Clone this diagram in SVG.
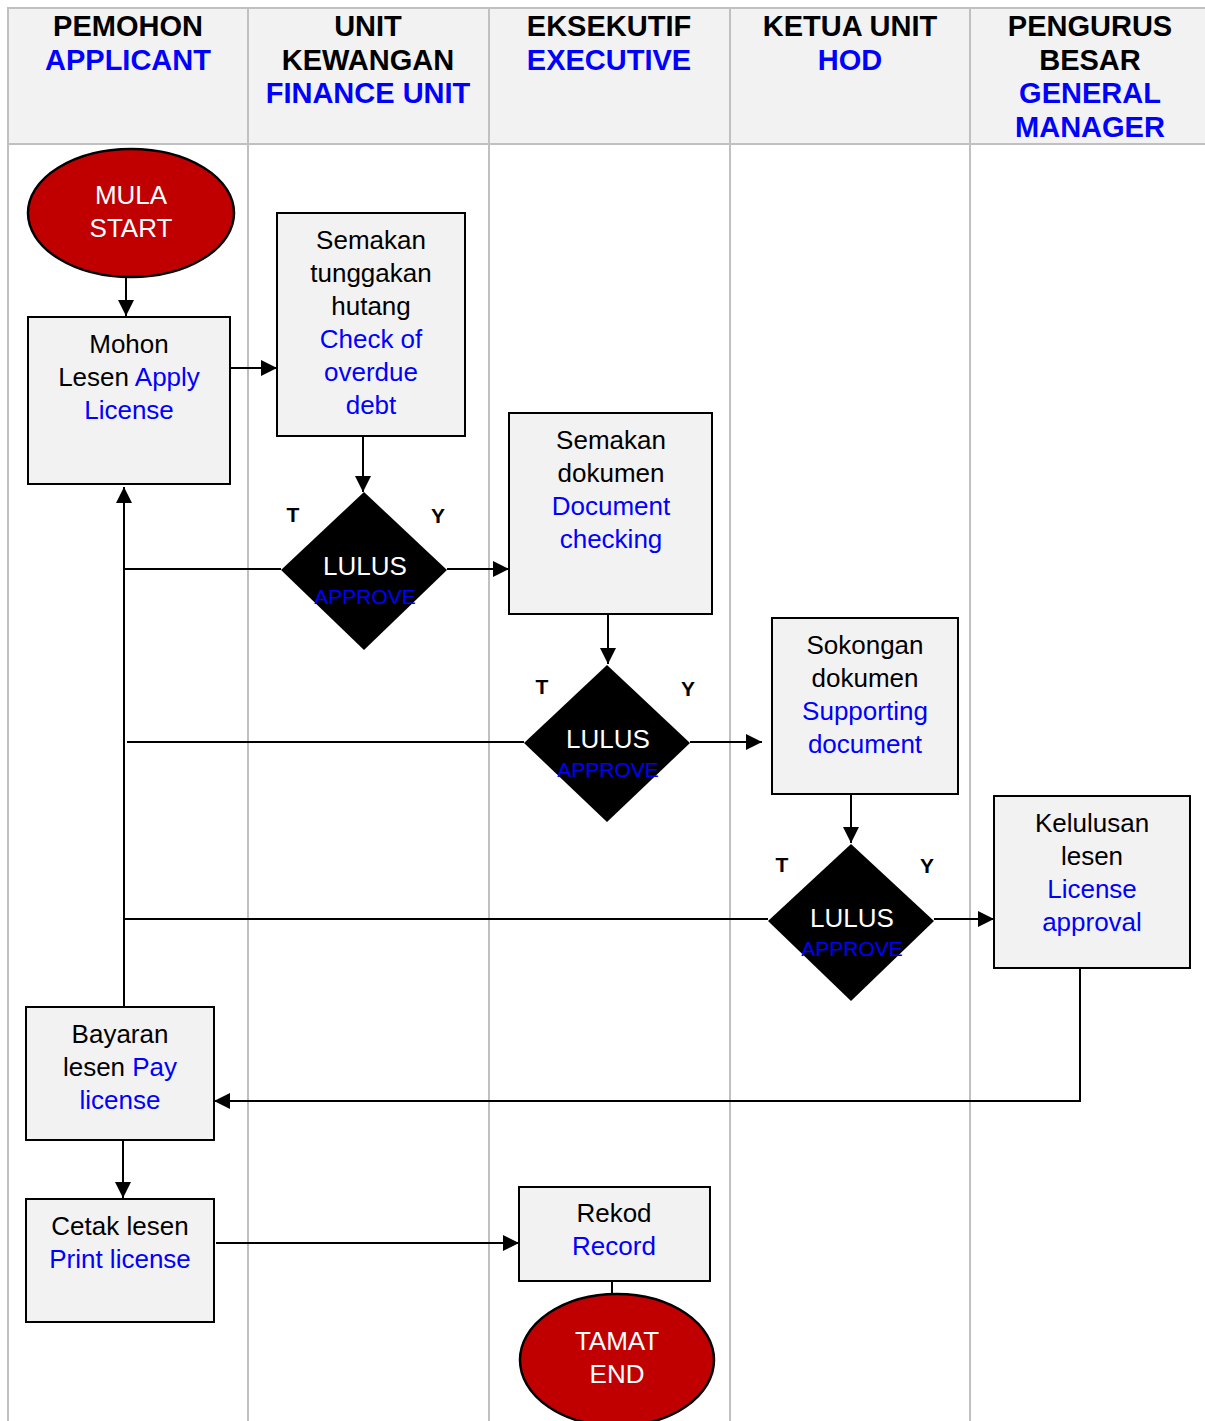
<svg xmlns="http://www.w3.org/2000/svg" width="1205" height="1421" viewBox="0 0 1205 1421">
<defs>
<style>
.hd{font-family:"Liberation Sans",Arial,sans-serif;font-size:29px;font-weight:bold;text-anchor:middle;fill:#000}
.t{font-family:"Liberation Sans",Arial,sans-serif;font-size:26px;text-anchor:middle;fill:#000}
.b{fill:#0000ff}
.w{fill:#fff}
.ap{font-family:"Liberation Sans",Arial,sans-serif;font-size:21px;text-anchor:middle;fill:#0000ff}
.ty{font-family:"Liberation Sans",Arial,sans-serif;font-size:21px;font-weight:bold;text-anchor:middle;fill:#000}
.box{fill:#f2f2f2;stroke:#000;stroke-width:2}
.term{fill:#c00000;stroke:#000;stroke-width:2.5}
.dia{fill:#000}
.lane{stroke:#c0c0c0;stroke-width:2;fill:none}
.c{stroke:#000;stroke-width:2;fill:none}
.ca{stroke:#000;stroke-width:2;fill:none;marker-end:url(#arr)}
</style>
<marker id="arr" markerUnits="userSpaceOnUse" markerWidth="17" markerHeight="17" refX="16" refY="8" orient="auto">
<path d="M0,0 L16,8 L0,16 z" fill="#000"/>
</marker>
</defs>
<rect width="1205" height="1421" fill="#fff"/>
<g id="lanes">
<rect x="8" y="8" width="1202" height="136" fill="#f2f2f2" stroke="#c0c0c0" stroke-width="2"/>
<line class="lane" x1="8" y1="8" x2="8" y2="1421"/>
<line class="lane" x1="248" y1="8" x2="248" y2="1421"/>
<line class="lane" x1="489" y1="8" x2="489" y2="1421"/>
<line class="lane" x1="730" y1="8" x2="730" y2="1421"/>
<line class="lane" x1="970" y1="8" x2="970" y2="1421"/>
<text class="hd" x="128" y="36">PEMOHON</text>
<text class="hd b" x="128" y="70">APPLICANT</text>
<text class="hd" x="368" y="36">UNIT</text>
<text class="hd" x="368" y="70">KEWANGAN</text>
<text class="hd b" x="368" y="103">FINANCE UNIT</text>
<text class="hd" x="609" y="36">EKSEKUTIF</text>
<text class="hd b" x="609" y="70">EXECUTIVE</text>
<text class="hd" x="850" y="36">KETUA UNIT</text>
<text class="hd b" x="850" y="70">HOD</text>
<text class="hd" x="1090" y="36">PENGURUS</text>
<text class="hd" x="1090" y="70">BESAR</text>
<text class="hd b" x="1090" y="103">GENERAL</text>
<text class="hd b" x="1090" y="137">MANAGER</text>
</g>
<g id="connectors">
<line class="ca" x1="126" y1="277" x2="126" y2="316"/>
<line class="ca" x1="230" y1="368" x2="277" y2="368"/>
<line class="ca" x1="363" y1="436" x2="363" y2="492"/>
<line class="c" x1="281" y1="569" x2="124" y2="569"/>
<line class="ca" x1="447" y1="569" x2="509" y2="569"/>
<line class="ca" x1="608" y1="614" x2="608" y2="664"/>
<line class="c" x1="524" y1="742" x2="127" y2="742"/>
<line class="ca" x1="690" y1="742" x2="762" y2="742"/>
<line class="ca" x1="851" y1="794" x2="851" y2="843"/>
<line class="c" x1="768" y1="919" x2="124" y2="919"/>
<line class="ca" x1="934" y1="919" x2="994" y2="919"/>
<polyline class="ca" points="1080,968 1080,1101 214,1101"/>
<line class="ca" x1="124" y1="1007" x2="124" y2="487"/>
<line class="ca" x1="123" y1="1140" x2="123" y2="1198"/>
<line class="ca" x1="216" y1="1243" x2="519" y2="1243"/>
<line class="c" x1="612" y1="1281" x2="612" y2="1295"/>
</g>
<g id="start">
<ellipse class="term" cx="131" cy="213" rx="103" ry="64"/>
<text class="t w" x="131" y="204">MULA</text>
<text class="t w" x="131" y="237">START</text>
</g>
<g id="apply">
<rect class="box" x="28" y="317" width="202" height="167"/>
<text class="t" x="129" y="353">Mohon</text>
<text class="t" x="129" y="386">Lesen <tspan class="b">Apply</tspan></text>
<text class="t b" x="129" y="419">License</text>
</g>
<g id="checkDebt">
<rect class="box" x="277" y="213" width="188" height="223"/>
<text class="t" x="371" y="249">Semakan</text>
<text class="t" x="371" y="282">tunggakan</text>
<text class="t" x="371" y="315">hutang</text>
<text class="t b" x="371" y="348">Check of</text>
<text class="t b" x="371" y="381">overdue</text>
<text class="t b" x="371" y="414">debt</text>
</g>
<g id="decision1">
<polygon class="dia" points="364,492 447,570 364,650 281,570"/>
<text class="t w" x="365" y="575">LULUS</text>
<text class="ap" x="365" y="604">APPROVE</text>
<text class="ty" x="293" y="522">T</text>
<text class="ty" x="438" y="523">Y</text>
</g>
<g id="docCheck">
<rect class="box" x="509" y="413" width="203" height="201"/>
<text class="t" x="611" y="449">Semakan</text>
<text class="t" x="611" y="482">dokumen</text>
<text class="t b" x="611" y="515">Document</text>
<text class="t b" x="611" y="548">checking</text>
</g>
<g id="decision2">
<polygon class="dia" points="607,665 690,743 607,822 524,743"/>
<text class="t w" x="608" y="748">LULUS</text>
<text class="ap" x="608" y="777">APPROVE</text>
<text class="ty" x="542" y="694">T</text>
<text class="ty" x="688" y="696">Y</text>
</g>
<g id="supportDoc">
<rect class="box" x="772" y="618" width="186" height="176"/>
<text class="t" x="865" y="654">Sokongan</text>
<text class="t" x="865" y="687">dokumen</text>
<text class="t b" x="865" y="720">Supporting</text>
<text class="t b" x="865" y="753">document</text>
</g>
<g id="decision3">
<polygon class="dia" points="851,844 934,921 851,1001 768,921"/>
<text class="t w" x="852" y="927">LULUS</text>
<text class="ap" x="852" y="956">APPROVE</text>
<text class="ty" x="782" y="872">T</text>
<text class="ty" x="927" y="873">Y</text>
</g>
<g id="licenseApproval">
<rect class="box" x="994" y="796" width="196" height="172"/>
<text class="t" x="1092" y="832">Kelulusan</text>
<text class="t" x="1092" y="865">lesen</text>
<text class="t b" x="1092" y="898">License</text>
<text class="t b" x="1092" y="931">approval</text>
</g>
<g id="payLicense">
<rect class="box" x="26" y="1007" width="188" height="133"/>
<text class="t" x="120" y="1043">Bayaran</text>
<text class="t" x="120" y="1076">lesen <tspan class="b">Pay</tspan></text>
<text class="t b" x="120" y="1109">license</text>
</g>
<g id="printLicense">
<rect class="box" x="26" y="1199" width="188" height="123"/>
<text class="t" x="120" y="1235">Cetak lesen</text>
<text class="t b" x="120" y="1268">Print license</text>
</g>
<g id="record">
<rect class="box" x="519" y="1187" width="191" height="94"/>
<text class="t" x="614" y="1222">Rekod</text>
<text class="t b" x="614" y="1255">Record</text>
</g>
<g id="end">
<ellipse class="term" cx="617" cy="1360" rx="97" ry="66"/>
<text class="t w" x="617" y="1350">TAMAT</text>
<text class="t w" x="617" y="1383">END</text>
</g>
</svg>
